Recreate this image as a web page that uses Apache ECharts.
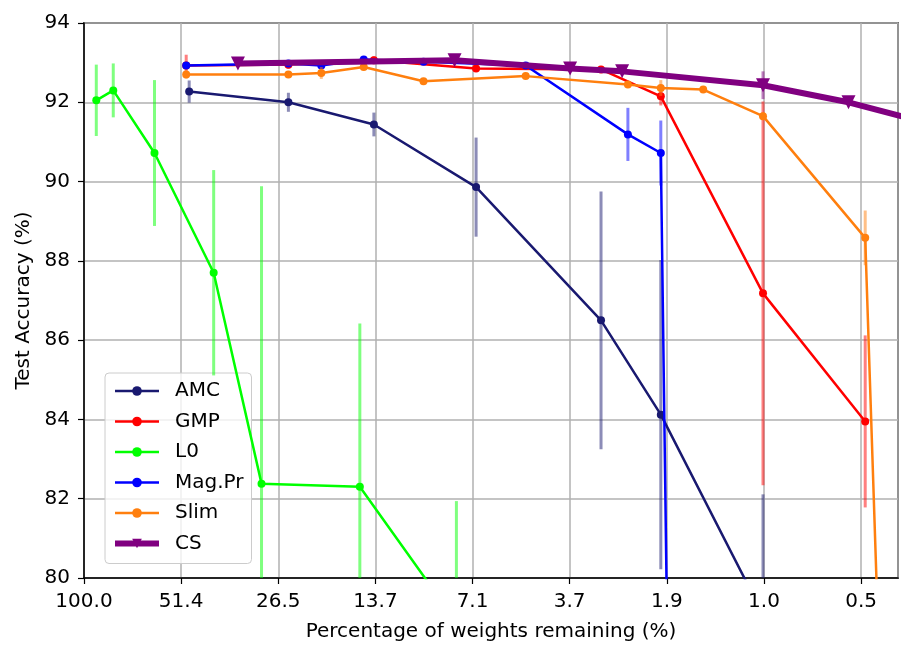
<!DOCTYPE html>
<html>
<head>
<meta charset="utf-8">
<script src="https://cdn.jsdelivr.net/npm/echarts@6/dist/echarts.min.js"></script>
<style>html,body{margin:0;padding:0;background:#fff}#c{width:921px;height:657px}</style>
</head>
<body>
<div id="c"></div>
<script>
// ---- data ----
const tickLabels = ['100.0', '51.4', '26.5', '13.7', '7.1', '3.7', '1.9', '1.0', '0.5'];

const amcX   = [49, 25, 14, 7, 3, 2, 1];
const amcAcc = [92.27, 92.00, 91.44, 89.86, 86.50, 84.12, 79.08];
const amcErr = [0.28, 0.24, 0.30, 1.25, 3.25, 3.90, 3.03];

const gmpX   = [50, 25, 14, 7, 3, 2, 1, 0.5];
const gmpAcc = [92.93, 92.95, 93.06, 92.85, 92.83, 92.15, 87.18, 83.95];
const gmpErr = [0.27, 0.10, 0.10, 0.05, 0.05, 0.23, 4.84, 2.17];

const l0X    = [92, 82, 62, 41.5, 30, 15.4, 8];
const l0Acc  = [92.05, 92.30, 90.72, 87.70, 82.38, 82.30, 78.89];
const l0Err  = [0.90, 0.68, 1.84, 2.59, 7.50, 4.12, 3.05];

const magX   = [50, 25, 20, 15, 10, 5, 2.5, 2, 1.5];
const magAcc = [92.93, 92.98, 92.93, 93.08, 93.02, 92.93, 91.19, 90.72, 10.5];
const magErr = [0.05, 0.05, 0.08, 0.08, 0.06, 0.05, 0.67, 0.82, 0];

const slimX   = [50, 25, 20, 15, 10, 5, 2.5, 2, 1.5, 1, 0.5, 0.25];
const slimAcc = [92.70, 92.70, 92.74, 92.89, 92.53, 92.66, 92.45, 92.36, 92.32, 91.65, 88.58, 10.3];
const slimErr = [0.10, 0.08, 0.15, 0.08, 0.05, 0.05, 0.05, 0.20, 0.05, 0.10, 0.69, 0];

const csX   = [35.2, 8.1, 3.7, 2.6, 1.0, 0.56, 0.3];
const csAcc = [92.98, 93.06, 92.85, 92.78, 92.43, 92.00, 91.39];
const csErr = [0.05, 0.05, 0.05, 0.05, 0.35, 0.08, 0.10];

// ---- axis transform (log scale, ticks evenly spaced) ----
const STEP = 0.6588;             // ln-ratio between neighbouring ticks
const X_MAX = 8.38;
const Y_MIN = 80, Y_MAX = 94;
const toK = p => Math.log(100 / p) / STEP;

const methods = [
  {name: 'AMC',    color: '#191970', err: 'rgba(25,25,112,0.5)',  x: amcX,  acc: amcAcc,  e: amcErr,  symbol: 'circle', size: 8,  width: 2.5},
  {name: 'GMP',    color: '#ff0000', err: 'rgba(255,0,0,0.5)',    x: gmpX,  acc: gmpAcc,  e: gmpErr,  symbol: 'circle', size: 8,  width: 2.5},
  {name: 'L0',     color: '#00ff00', err: 'rgba(0,255,0,0.5)',    x: l0X,   acc: l0Acc,   e: l0Err,   symbol: 'circle', size: 8,  width: 2.5},
  {name: 'Mag.Pr', color: '#0000ff', err: 'rgba(0,0,255,0.5)',    x: magX,  acc: magAcc,  e: magErr,  symbol: 'circle', size: 8,  width: 2.5},
  {name: 'Slim',   color: '#ff7f0e', err: 'rgba(255,127,14,0.5)', x: slimX, acc: slimAcc, e: slimErr, symbol: 'circle', size: 8,  width: 2.5},
  {name: 'CS',     color: '#800080', err: 'rgba(128,0,128,0.5)',  x: csX,   acc: csAcc,   e: csErr,   symbol: 'triangle', size: 14, width: 6, rotate: 180}
];

const FONT = 'DejaVu Sans';
const series = [];
methods.forEach((m, idx) => {
  series.push({
    name: m.name + ' err',
    type: 'custom',
    clip: true,
    z: 2 + idx * 2,
    silent: true,
    animation: false,
    encode: {x: 0, y: [1, 2]},
    data: m.x.map((p, i) => [toK(p), m.acc[i] - m.e[i], m.acc[i] + m.e[i]]),
    renderItem: function (params, api) {
      const k = api.value(0);
      if (k < 0 || k > X_MAX) return null;
      let lo = Math.max(api.value(1), Y_MIN), hi = Math.min(api.value(2), Y_MAX);
      if (hi <= lo) return null;
      const a = api.coord([k, lo]), b = api.coord([k, hi]);
      return {type: 'line', shape: {x1: a[0], y1: a[1], x2: b[0], y2: b[1]},
              style: {stroke: m.err, lineWidth: 3}};
    }
  });
  series.push({
    name: m.name,
    type: 'line',
    clip: true,
    z: 3 + idx * 2,
    animation: false,
    symbol: m.symbol,
    symbolSize: m.size,
    symbolRotate: m.rotate || 0,
    showSymbol: true,
    lineStyle: {color: m.color, width: m.width},
    itemStyle: {color: m.color},
    data: m.x.map((p, i) => [toK(p), m.acc[i]])
  });
});

const chart = echarts.init(document.getElementById('c'), null, {renderer: 'canvas'});
chart.setOption({
  animation: false,
  backgroundColor: '#fff',
  grid: {left: 84, right: 23, top: 23, bottom: 79, show: true, borderColor: '#000', borderWidth: 1.5, backgroundColor: 'transparent'},
  legend: {
    data: methods.map(m => ({name: m.name, lineStyle: {width: m.width, color: m.color}})),
    orient: 'vertical',
    left: 105, top: 373,
    itemWidth: 44, itemHeight: 12,
    itemGap: 10.5,
    padding: [8, 8, 10, 7],
    backgroundColor: 'rgba(255,255,255,0.8)',
    borderColor: '#cccccc', borderWidth: 1, borderRadius: 4,
    textStyle: {fontFamily: FONT, fontSize: 20, color: '#000', padding: [0, 0, 0, 11], lineHeight: 20}
  },
  xAxis: {
    type: 'value', min: 0, max: X_MAX, interval: 1,
    name: 'Percentage of weights remaining (%)',
    nameLocation: 'middle', nameGap: 44,
    nameTextStyle: {fontFamily: FONT, fontSize: 20, color: '#000'},
    axisLine: {show: true, onZero: false, lineStyle: {color: '#000', width: 1.5}},
    axisTick: {show: true, inside: false, length: 6, lineStyle: {color: '#000', width: 1.2}},
    axisLabel: {
      fontFamily: FONT, fontSize: 20, color: '#000', margin: 14, showMaxLabel: false,
      formatter: v => (Math.abs(v - Math.round(v)) < 1e-6 && tickLabels[Math.round(v)] !== undefined) ? tickLabels[Math.round(v)] : ''
    },
    splitLine: {show: true, lineStyle: {color: '#b0b0b0', width: 1.5}}
  },
  yAxis: {
    type: 'value', min: Y_MIN, max: Y_MAX, interval: 2,
    name: 'Test Accuracy (%)',
    nameLocation: 'middle', nameGap: 50,
    nameTextStyle: {fontFamily: FONT, fontSize: 20, color: '#000'},
    axisLine: {show: true, lineStyle: {color: '#000', width: 1.5}},
    axisTick: {show: true, inside: false, length: 6, lineStyle: {color: '#000', width: 1.2}},
    axisLabel: {fontFamily: FONT, fontSize: 20, color: '#000', margin: 14},
    splitLine: {show: true, lineStyle: {color: '#b0b0b0', width: 1.5}}
  },
  series: series
});
</script>
</body>
</html>
